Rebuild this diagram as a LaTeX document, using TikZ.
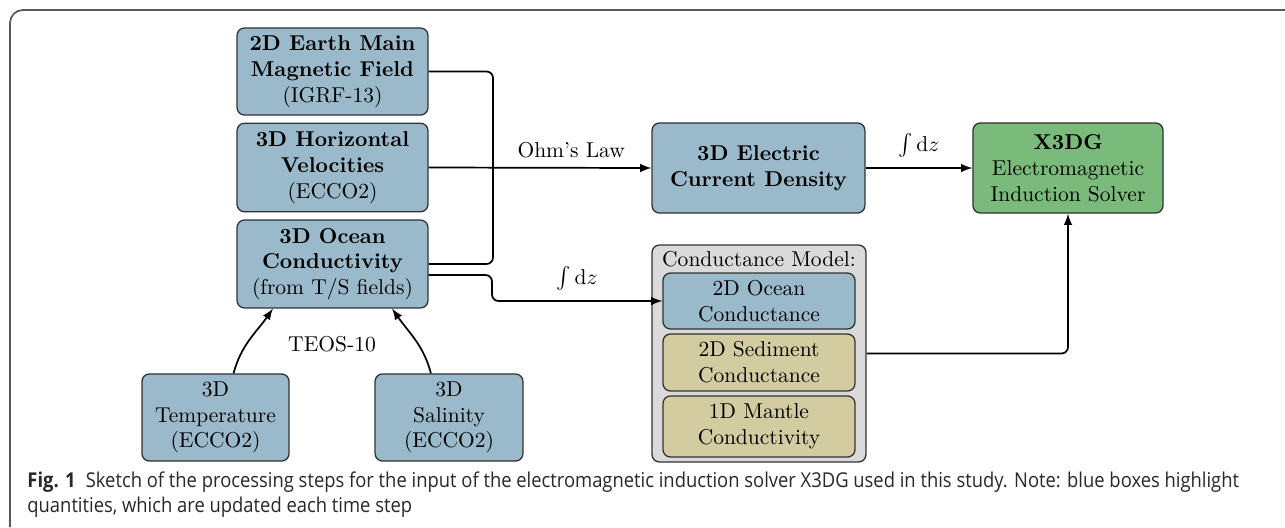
\documentclass[tikz,border=0pt]{standalone}
\usepackage{fontspec}
\newfontfamily\capfont[FakeStretch=0.9]{Open Sans}

\definecolor{qtyblue}{RGB}{154,185,202}
\definecolor{solvergreen}{RGB}{122,186,122}
\definecolor{fixedtan}{RGB}{210,204,160}
\definecolor{groupgray}{RGB}{218,218,218}
\definecolor{edgegray}{RGB}{50,50,50}
\definecolor{captext}{RGB}{40,40,40}

\begin{document}
\begin{tikzpicture}[x=0.465pt,y=-0.465pt,
  box/.style={draw=edgegray,semithick,rounded corners=3.5pt,align=center,inner sep=1pt},
  qty/.style={box,fill=qtyblue},
  fixed/.style={box,fill=fixedtan},
  link/.style={thick,rounded corners=3pt},
  flow/.style={link,-latex}]
\useasboundingbox (0,0) rectangle (1285,527);
%%% frame round the figure
\draw[gray!70!black,thick,rounded corners=6pt] (10,527) -- (10,10) -- (1285,10);

%%% input fields
\node[qty,minimum width=88.8pt,minimum height=40.5pt] (mag) at (332.5,71.5)
  {\textbf{2D Earth Main}\\\textbf{Magnetic Field}\\(IGRF-13)};
\node[qty,minimum width=88.8pt,minimum height=41.2pt] (vel) at (332.5,167.5)
  {\textbf{3D Horizontal}\\\textbf{Velocities}\\(ECCO2)};
\node[qty,minimum width=88.8pt,minimum height=40.9pt] (cond3d) at (332.5,264)
  {\textbf{3D Ocean}\\\textbf{Conductivity}\\(from T/S fields)};
\node[qty,minimum width=68.4pt,minimum height=40.5pt] (temp) at (215.5,417.5)
  {3D\\Temperature\\(ECCO2)};
\node[qty,minimum width=68.8pt,minimum height=40.5pt] (sal) at (449,417.5)
  {3D\\Salinity\\(ECCO2)};

%%% derived quantities and solver
\node[qty,minimum width=99pt,minimum height=41.9pt] (curr) at (758.5,168)
  {\textbf{3D Electric}\\\textbf{Current Density}};
\node[box,fill=solvergreen,minimum width=88.4pt,minimum height=41.9pt] (solver) at (1068,168)
  {\textbf{X3DG}\\Electromagnetic\\Induction Solver};

%%% conductance model
\node[box,fill=groupgray,minimum width=99.5pt,minimum height=100.9pt] (model) at (759,353.5) {};
\node[inner sep=0pt] (modeltitle) at (759,259) {Conductance Model:};
\node[qty,minimum width=89.3pt,minimum height=26pt] (ocean2d) at (759,301)
  {2D Ocean\\Conductance};
\node[fixed,minimum width=89.3pt,minimum height=26.5pt] (sed) at (759,362.5)
  {2D Sediment\\Conductance};
\node[fixed,minimum width=89.3pt,minimum height=28.4pt] (mantle) at (759,426.5)
  {1D Mantle\\Conductivity};

%%% connectors
\coordinate (bus) at (493,170);
\draw[link] (mag.east) -| (bus) |- (cond3d.east);
\draw[flow] (vel.east) -- node[pos=0.64,above=1pt] (ohm) {Ohm's Law} (curr.west);
\draw[flow] ([yshift=-5.1pt]cond3d.east) -- (492,275) |- node[pos=0.75,above=1pt] (intocean) {$\int\mathrm{d}z$} (ocean2d.west);
\draw[flow] (curr.east) -- node[above=1pt] (intcurr) {$\int\mathrm{d}z$} (solver.west);
\draw[flow] (model.east) -| (solver.south);
\draw[flow] ([xshift=8.4pt]temp.north) to[out=75,in=235] ([xshift=-27.7pt]cond3d.south);
\draw[flow] ([xshift=-8.4pt]sal.north) to[out=105,in=-55] ([xshift=27.7pt]cond3d.south);
\node (teos) at (332,344) {TEOS-10};

%%% caption
\node[anchor=base west,inner sep=0pt,text=captext] (cap1) at (27,487)
  {\capfont\fontsize{9.5}{11}\selectfont\textbf{Fig. 1}\enspace Sketch of the processing steps for the input of the electromagnetic induction solver X3DG used in this study. Note: blue boxes highlight};
\node[anchor=base west,inner sep=0pt,text=captext] (cap2) at (27,512)
  {\capfont\fontsize{9.5}{11}\selectfont quantities, which are updated each time step};
\end{tikzpicture}
\end{document}
